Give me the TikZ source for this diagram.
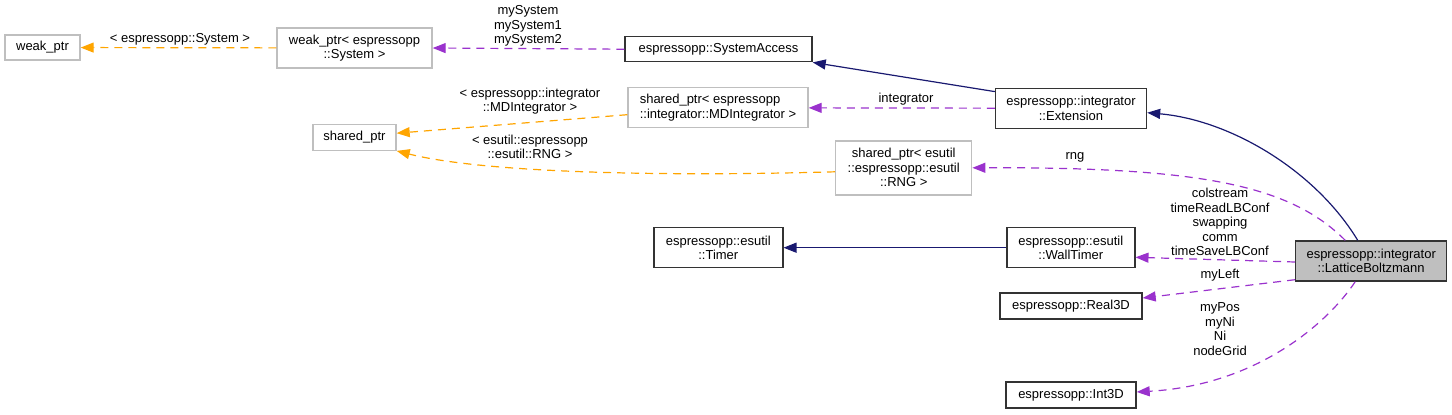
\documentclass[tikz,border=0pt]{standalone}
\usepackage{fontspec}
\setmainfont{Liberation Sans}
\usepackage{tikz}
\usetikzlibrary{arrows.meta, positioning}
\definecolor{EdgeNavy}{HTML}{191970}
\definecolor{EdgePurple}{HTML}{9A32CD}
\definecolor{EdgeOrange}{HTML}{FFA500}
\definecolor{BoxGrey}{HTML}{BFBFBF}

\begin{document}
\begin{tikzpicture}[
    x=1pt, y=-1pt,
    box/.style={rectangle, draw=black!80, line width=1.4pt, fill=white, inner sep=2pt, align=center, font=\fontsize{13}{14.5}\selectfont},
    boxgrey/.style={box, draw=BoxGrey},
    boxcur/.style={box, fill=BoxGrey},
    lbl/.style={inner sep=0pt, align=center, font=\fontsize{13}{14.5}\selectfont},
    inh/.style={-{Triangle[length=13pt, width=10pt]}, EdgeNavy, line width=1.2pt},
    member/.style={-{Triangle[length=13pt, width=10pt]}, EdgePurple, line width=1.2pt, dash pattern=on 8pt off 6pt},
    tmpl/.style={member, EdgeOrange}
  ]
    \useasboundingbox (0,0) rectangle (1452,415);

    \node[boxgrey, minimum width=75, minimum height=25] (wptr) at (42.5,47.5) {weak\_ptr};
    \node[boxgrey, minimum width=155, minimum height=40] (wsys) at (354.5,48) {weak\_ptr< espressopp\\::System >};
    \node[box, minimum width=187, minimum height=25] (sysacc) at (718.5,49.2) {espressopp::SystemAccess};
    \node[boxgrey, minimum width=83, minimum height=26] (sptr) at (354.5,137.2) {shared\_ptr};
    \node[boxgrey, align=left, minimum width=180, minimum height=40] (smd) at (718,107.7) {shared\_ptr< espressopp\\::integrator::MDIntegrator >};
    \node[box, minimum width=151, minimum height=40] (ext) at (1071,108.3) {espressopp::integrator\\::Extension};
    \node[boxgrey, minimum width=136, minimum height=54] (srng) at (903.7,167.8) {shared\_ptr< esutil\\::espressopp::esutil\\::RNG >};
    \node[box, minimum width=129, minimum height=40] (timer) at (718.3,247.7) {espressopp::esutil\\::Timer};
    \node[box, minimum width=128, minimum height=40] (wtimer) at (1070.8,247.7) {espressopp::esutil\\::WallTimer};
    \node[boxcur, minimum width=151, minimum height=40] (lb) at (1371.2,261) {espressopp::integrator\\::LatticeBoltzmann};
    \node[box, minimum width=142, minimum height=26] (real) at (1071,306) {espressopp::Real3D};
    \node[box, minimum width=130, minimum height=26] (int) at (1071,395) {espressopp::Int3D};

    \node[lbl] (lsys) at (180,39) {< espressopp::System >};
    \node[lbl] (lmysys) at (528,26) {mySystem\\mySystem1\\mySystem2};
    \node[lbl] (lintg) at (906,99) {integrator};
    \node[lbl] (lmd) at (530,101) {< espressopp::integrator\\::MDIntegrator >};
    \node[lbl] (lrngt) at (530,147) {< esutil::espressopp\\::esutil::RNG >};
    \node[lbl] (lrng) at (1075,157) {rng};
    \node[lbl] (lcol) at (1220,222) {colstream\\timeReadLBConf\\swapping\\comm\\timeSaveLBConf};
    \node[lbl] (lleft) at (1220,275) {myLeft};
    \node[lbl] (lpos) at (1220,329) {myPos\\myNi\\Ni\\nodeGrid};

    \draw[tmpl] (wsys) -- (wptr);
    \draw[member] (sysacc.west) -- (wsys.east);
    \draw[inh] ([yshift=-4pt]ext.north west) -- (sysacc.south east);
    \draw[member] (ext) -- (smd);
    \draw[tmpl] ([yshift=-7pt]smd.west) -- ([yshift=4pt]sptr.east);
    \draw[tmpl] ([yshift=-4pt]srng.west) .. controls (650,177) and (480,172) .. (sptr.south east);
    \draw[inh] ([xshift=-13.5pt]lb.north) .. controls (1315,170) and (1230,120) .. ([yshift=-4.4pt]ext.east);
    \draw[member] ([xshift=-26pt]lb.north) .. controls (1290,185) and (1200,167) .. (srng.east);
    \draw[inh] (wtimer) -- (timer);
    \draw[member] ([yshift=-1pt]lb.west) -- ([yshift=-9.6pt]wtimer.east);
    \draw[member] ([yshift=2pt]lb.south west) -- ([yshift=8pt]real.east);
    \draw[member] ([xshift=-16pt]lb.south) .. controls (1330,320) and (1260,385) .. ([yshift=3pt]int.east);
  \end{tikzpicture}
\end{document}
